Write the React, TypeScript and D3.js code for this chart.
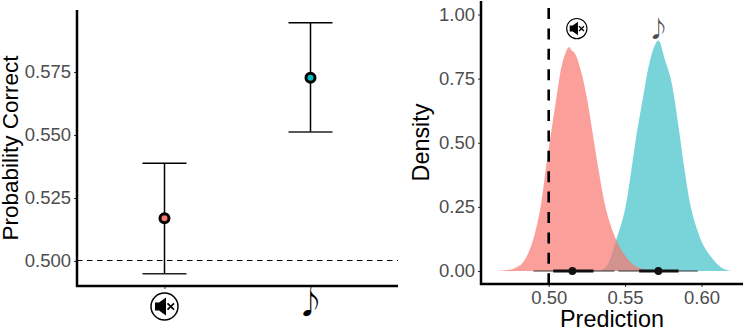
import React, { useEffect, useRef } from "react";
import * as d3 from "d3";

const conditions = ["silent", "music"];
const colors = ["#F8766D", "#00BFC4"];

// left panel
const means = [0.517, 0.5727];
const lower = [0.4949, 0.5512];
const upper = [0.5388, 0.5945];
const probTicks = [0.5, 0.525, 0.55, 0.575];

// right panel
const silentX = [0.464, 0.472, 0.478, 0.483, 0.487, 0.491, 0.4954, 0.4983, 0.5015, 0.5048, 0.5083, 0.511, 0.5135, 0.515, 0.5166, 0.5216, 0.5253, 0.5288, 0.5323, 0.5362, 0.5424, 0.549, 0.5576, 0.5686];
const silentY = [0, 0.003, 0.012, 0.032, 0.075, 0.147, 0.276, 0.406, 0.536, 0.665, 0.795, 0.85, 0.873, 0.86, 0.853, 0.769, 0.665, 0.536, 0.406, 0.276, 0.147, 0.069, 0.017, 0];
const musicX = [0.5336, 0.539, 0.5441, 0.5511, 0.5544, 0.5576, 0.5614, 0.5653, 0.569, 0.5718, 0.5762, 0.5806, 0.5815, 0.5856, 0.5886, 0.5921, 0.598, 0.6079, 0.614, 0.62];
const musicY = [0, 0.03, 0.12, 0.276, 0.406, 0.536, 0.665, 0.795, 0.873, 0.899, 0.821, 0.73, 0.7, 0.536, 0.406, 0.276, 0.147, 0.043, 0.01, 0];
const medians = [0.5155, 0.5718];
const thinLow = [0.49, 0.5456];
const thinHigh = [0.543, 0.5976];
const thickLow = [0.503, 0.5592];
const thickHigh = [0.5293, 0.585];
const predTicks = [0.5, 0.55, 0.6];
const densTicks = [0, 0.25, 0.5, 0.75, 1];

const font = "'Liberation Sans', Arial, sans-serif";

const yLeft = d3.scaleLinear().domain([0.5, 0.575]).range([261, 72]);
const xLeft = d3.scalePoint<string>().domain(conditions).range([164.5, 310.5]);
const xRight = d3.scaleLinear().domain([0.5, 0.6]).range([548.7, 701.5]);
const yRight = d3.scaleLinear().domain([0, 1]).range([271, 14.5]);

const area = d3
  .area<[number, number]>()
  .curve(d3.curveMonotoneX)
  .x(d => xRight(d[0]))
  .y0(yRight(0))
  .y1(d => yRight(d[1]));

const MuteIcon = ({ x, y, r }: { x: number; y: number; r: number }) => {
  const s = r / 14;
  return (
    <g transform={`translate(${x} ${y}) scale(${s})`}>
      <circle r={13.5} fill="white" stroke="black" strokeWidth={1.5} />
      <path d="M-9.5 -4H-5.5L1.5 -9V9L-5.5 4H-9.5Z" fill="black" />
      <path d="M3 -3.2L9.5 3.2M9.5 -3.2L3 3.2" stroke="black" strokeWidth={1.7} fill="none" />
    </g>
  );
};

const Note = ({ x, y, size, fill }: { x: number; y: number; size: number; fill: string }) => (
  <text x={x} y={y} fontFamily="'Noto Sans CJK JP'" fontSize={size} fill={fill} textAnchor="middle">
    ♪
  </text>
);

const App = () => {
  const ref = useRef<SVGSVGElement>(null);

  useEffect(() => {
    const svg = d3.select(ref.current);
    svg
      .select<SVGGElement>(".y-left")
      .call(d3.axisLeft(yLeft).tickValues(probTicks).tickFormat(d3.format(".3f")).tickSize(3).tickPadding(3));
    svg
      .select<SVGGElement>(".x-left")
      .call(d3.axisBottom(xLeft).tickSize(3).tickFormat(() => ""));
    svg
      .select<SVGGElement>(".y-right")
      .call(d3.axisLeft(yRight).tickValues(densTicks).tickFormat(d3.format(".2f")).tickSize(3).tickPadding(3));
    svg
      .select<SVGGElement>(".x-right")
      .call(d3.axisBottom(xRight).tickValues(predTicks).tickFormat(d3.format(".2f")).tickSize(3).tickPadding(4));
    svg.selectAll(".axis .domain").remove();
    svg.selectAll(".axis line").attr("stroke", "#333").attr("stroke-width", 1);
    svg
      .selectAll(".axis text")
      .attr("fill", "#4D4D4D")
      .attr("font-size", 18.5)
      .attr("font-family", font);
  }, []);

  return (
    <svg ref={ref} width={752} height={330} style={{ position: "absolute", left: 0, top: 0 }}>
      <rect width={752} height={330} fill="white" />

      {/* left panel */}
      <line x1={77} x2={398} y1={yLeft(0.5) - 0.5} y2={yLeft(0.5) - 0.5} stroke="black" strokeWidth={1.2} strokeDasharray="5.5 4.5" />
      {conditions.map((c, i) => {
        const x = xLeft(c)!;
        return (
          <g key={c}>
            <line x1={x} x2={x} y1={yLeft(lower[i])} y2={yLeft(upper[i])} stroke="black" strokeWidth={1.5} />
            <line x1={x - 22} x2={x + 22} y1={yLeft(lower[i])} y2={yLeft(lower[i])} stroke="#222" strokeWidth={1.5} />
            <line x1={x - 22} x2={x + 22} y1={yLeft(upper[i])} y2={yLeft(upper[i])} stroke="black" strokeWidth={1.5} />
            <circle cx={x} cy={yLeft(means[i])} r={4.5} fill={colors[i]} stroke="black" strokeWidth={3} />
          </g>
        );
      })}
      <g className="axis y-left" transform="translate(77 0)" />
      <g className="axis x-left" transform="translate(0 286)" />
      <line x1={77} x2={77} y1={10} y2={287} stroke="black" strokeWidth={2.5} />
      <line x1={76} x2={398} y1={286} y2={286} stroke="black" strokeWidth={2.5} />
      <MuteIcon x={xLeft("silent")!} y={306.5} r={14} />
      <Note x={xLeft("music")!} y={314} size={29} fill="black" />
      <text
        transform="translate(18 148) rotate(-90)"
        textAnchor="middle"
        fontFamily={font}
        fontSize={22.5}
        fill="black"
      >
        Probability Correct
      </text>

      {/* right panel */}
      <path d={area(musicX.map((x, i) => [x, musicY[i]]))!} fill="#00AEB6" fillOpacity={0.53} />
      <path d={area(silentX.map((x, i) => [x, silentY[i]]))!} fill={colors[0]} fillOpacity={0.7} />
      <line x1={xRight(0.5)} x2={xRight(0.5)} y1={8} y2={284} stroke="black" strokeWidth={2.6} strokeDasharray="11 9.4" />
      {conditions.map((c, i) => (
        <g key={c}>
          <line x1={xRight(thinLow[i])} x2={xRight(thinHigh[i])} y1={yRight(0)} y2={yRight(0)} stroke="#333" strokeWidth={1.2} />
          <line x1={xRight(thickLow[i])} x2={xRight(thickHigh[i])} y1={yRight(0)} y2={yRight(0)} stroke="#111" strokeWidth={2.8} />
          <circle cx={xRight(medians[i])} cy={yRight(0)} r={3.9} fill="#111" />
        </g>
      ))}
      <g className="axis y-right" transform="translate(481 0)" />
      <g className="axis x-right" transform="translate(0 284)" />
      <line x1={481} x2={481} y1={1} y2={285} stroke="black" strokeWidth={2.5} />
      <line x1={480} x2={743} y1={284} y2={284} stroke="black" strokeWidth={2.5} />
      <MuteIcon x={xRight(0.5184)} y={yRight(0.945)} r={10.5} />
      <Note x={xRight(0.5718)} y={37} size={23} fill="#4D4D4D" />
      <text x={612} y={327} textAnchor="middle" fontFamily={font} fontSize={23.4} fill="black">
        Prediction
      </text>
      <text
        transform="translate(429 142.5) rotate(-90)"
        textAnchor="middle"
        fontFamily={font}
        fontSize={23.4}
        fill="black"
      >
        Density
      </text>
    </svg>
  );
};

export default App;
